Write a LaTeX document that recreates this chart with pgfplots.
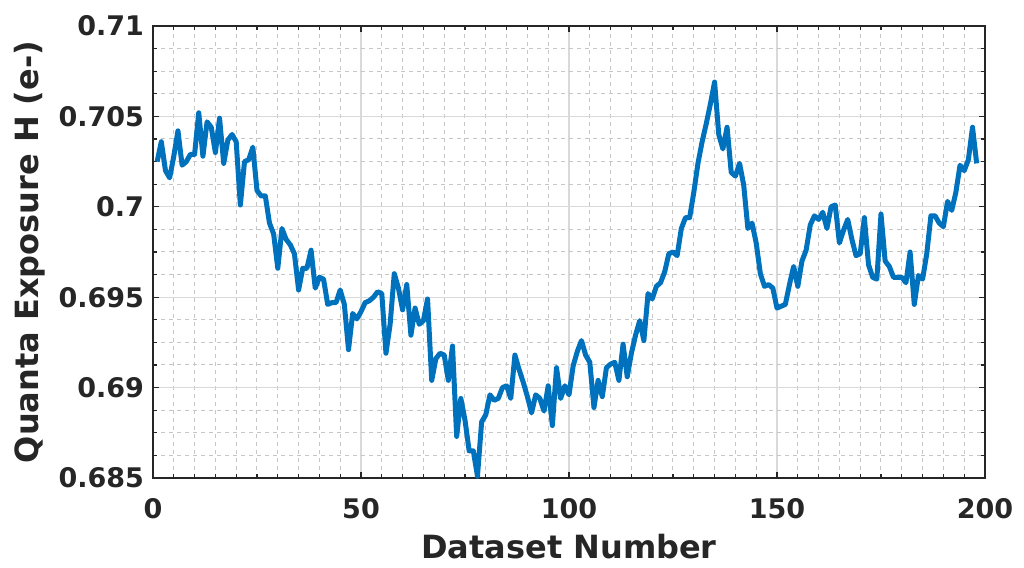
\documentclass[border=0pt]{standalone}
\usepackage{fontspec}
\setmainfont{DejaVu Sans}
\usepackage{pgfplots}
\pgfplotsset{compat=1.18}
\usepackage{pgfplotstable}
\definecolor{mblue}{RGB}{0,114,189}
\definecolor{axgray}{RGB}{38,38,38}
\pgfplotstableread{
x y
1 0.7025
2 0.7036
3 0.7020
4 0.7016
5 0.7028
6 0.7042
7 0.7023
8 0.7025
9 0.7029
10 0.7029
11 0.7052
12 0.7028
13 0.7047
14 0.7044
15 0.7030
16 0.7049
17 0.7024
18 0.7037
19 0.7040
20 0.7036
21 0.7001
22 0.7025
23 0.7026
24 0.7033
25 0.7009
26 0.7006
27 0.7006
28 0.6991
29 0.6985
30 0.6966
31 0.6988
32 0.6982
33 0.6979
34 0.6974
35 0.6954
36 0.6966
37 0.6966
38 0.6976
39 0.6955
40 0.6961
41 0.6960
42 0.6946
43 0.6947
44 0.6947
45 0.6954
46 0.6946
47 0.6921
48 0.6941
49 0.6938
50 0.6942
51 0.6947
52 0.6948
53 0.6950
54 0.6953
55 0.6952
56 0.6919
57 0.6935
58 0.6963
59 0.6955
60 0.6943
61 0.6957
62 0.6929
63 0.6944
64 0.6935
65 0.6937
66 0.6949
67 0.6904
68 0.6916
69 0.6919
70 0.6918
71 0.6904
72 0.6923
73 0.6873
74 0.6894
75 0.6882
76 0.6865
77 0.6865
78 0.6851
79 0.6881
80 0.6885
81 0.6896
82 0.6893
83 0.6894
84 0.6900
85 0.6901
86 0.6894
87 0.6918
88 0.6910
89 0.6903
90 0.6895
91 0.6886
92 0.6896
93 0.6894
94 0.6887
95 0.6901
96 0.6879
97 0.6911
98 0.6894
99 0.6901
100 0.6896
101 0.6912
102 0.6920
103 0.6926
104 0.6918
105 0.6914
106 0.6889
107 0.6904
108 0.6895
109 0.6911
110 0.6913
111 0.6914
112 0.6904
113 0.6924
114 0.6906
115 0.6919
116 0.6929
117 0.6937
118 0.6926
119 0.6952
120 0.6949
121 0.6956
122 0.6958
123 0.6964
124 0.6974
125 0.6975
126 0.6973
127 0.6988
128 0.6994
129 0.6994
130 0.7008
131 0.7024
132 0.7036
133 0.7046
134 0.7057
135 0.7069
136 0.7040
137 0.7032
138 0.7044
139 0.7019
140 0.7017
141 0.7024
142 0.7012
143 0.6988
144 0.6991
145 0.6980
146 0.6963
147 0.6956
148 0.6957
149 0.6955
150 0.6944
151 0.6945
152 0.6946
153 0.6957
154 0.6967
155 0.6956
156 0.6970
157 0.6976
158 0.6990
159 0.6995
160 0.6993
161 0.6997
162 0.6988
163 0.7000
164 0.7001
165 0.6980
166 0.6987
167 0.6993
168 0.6982
169 0.6973
170 0.6974
171 0.6994
172 0.6968
173 0.6961
174 0.6960
175 0.6996
176 0.6970
177 0.6967
178 0.6961
179 0.6961
180 0.6961
181 0.6958
182 0.6975
183 0.6946
184 0.6962
185 0.6960
186 0.6974
187 0.6995
188 0.6995
189 0.6991
190 0.6989
191 0.7003
192 0.6998
193 0.7008
194 0.7023
195 0.7020
196 0.7026
197 0.7044
198 0.7024
}\datatable
\begin{document}
\begin{tikzpicture}
\begin{axis}[
  scale only axis,
  width=416pt, height=226pt,
  xmin=0, xmax=200, ymin=0.685, ymax=0.71,
  xtick={0,50,100,150,200},
  xticklabels={0,50,100,150,200},
  ytick={0.685,0.69,0.695,0.7,0.705,0.71},
  yticklabels={0.685,0.69,0.695,0.7,0.705,0.71},
  minor x tick num=9,
  minor y tick num=3,
  grid=both,
  major grid style={solid, color=black!15, line width=0.6pt},
  minor grid style={dashed, dash pattern=on 2pt off 2pt, color=black!22, line width=0.5pt},
  axis line style={color=axgray, line width=0.6pt},
  tick style={color=axgray, line width=0.6pt},
  tick align=inside,
  major tick length=3pt,
  minor tick length=2pt,
  ticklabel style={font=\fontsize{13.5}{16}\selectfont\bfseries, text=axgray},
  label style={font=\fontsize{16}{19}\selectfont\bfseries, text=axgray},
  xlabel={Dataset Number},
  ylabel={Quanta Exposure H (e-)},
  xticklabel style={yshift=-6.5pt},
  yticklabel style={xshift=-1pt},
  xlabel style={yshift=-1pt},
  ylabel style={yshift=0pt},
  clip=false,
]
\addplot[color=mblue, line width=2.5pt, line join=round] table[x=x,y=y] {\datatable};
\end{axis}
\path (-76.5pt,-45pt) rectangle (435.5pt,239pt);
\end{tikzpicture}
\end{document}
